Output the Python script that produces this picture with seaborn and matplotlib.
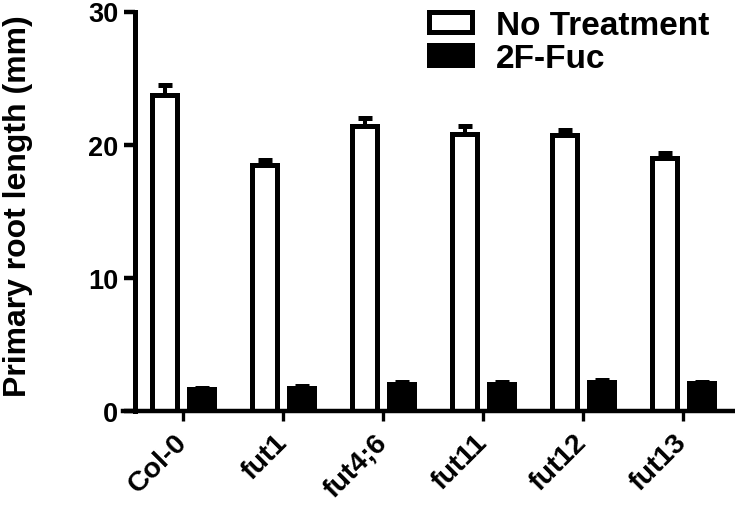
import numpy as np
import pandas as pd
import matplotlib
matplotlib.use("Agg")
import matplotlib.pyplot as plt
import seaborn as sns

# values
genotypes = ["Col-0", "fut1", "fut4;6", "fut11", "fut12", "fut13"]
treatments = ["No Treatment", "2F-Fuc"]
no_treatment = [23.73, 18.47, 21.43, 20.77, 20.73, 19.02]
no_treatment_err = [0.76, 0.35, 0.54, 0.63, 0.37, 0.38]
fuc = [1.64, 1.74, 2.02, 2.04, 2.19, 2.06]
fuc_err = [0.1, 0.1, 0.1, 0.1, 0.1, 0.1]
yticks = [0, 10, 20, 30]

df = pd.DataFrame({
    "genotype": genotypes * 2,
    "treatment": [treatments[0]] * 6 + [treatments[1]] * 6,
    "length": no_treatment + fuc,
})

sns.set_style("ticks")
plt.rcParams["font.family"] = ["Liberation Sans", "DejaVu Sans"]
plt.rcParams["font.weight"] = "bold"
for key in ["text.color", "axes.labelcolor", "xtick.color", "ytick.color", "axes.edgecolor"]:
    plt.rcParams[key] = "black"

fig = plt.figure(figsize=(7.35, 5.1), dpi=100)
ax = fig.add_axes([123 / 735, 98.3 / 510, 612 / 735, 399.2 / 510])

sns.barplot(data=df, x="genotype", y="length", hue="treatment",
            hue_order=treatments, palette=["white", "black"],
            edgecolor="black", linewidth=3.6, width=0.74, gap=0.324,
            errorbar=None, ax=ax)

# upper-only error bars, GraphPad style
for cont, err in zip(ax.containers, [no_treatment_err, fuc_err]):
    xs = [p.get_x() + p.get_width() / 2 for p in cont.patches]
    hs = [p.get_height() for p in cont.patches]
    ax.errorbar(xs, hs, yerr=[np.zeros(len(err)), err], fmt="none",
                ecolor="black", elinewidth=2.9, capsize=5, capthick=3.6,
                zorder=1)

ax.set_xlim(-0.6, 5.52)
ax.set_ylim(0, 30)
ax.set_yticks(yticks)
sns.despine(ax=ax)
ax.spines["left"].set_position(("data", -0.485))
ax.spines["left"].set_linewidth(3.6)
ax.spines["bottom"].set_linewidth(3.2)
ax.spines["bottom"].set_zorder(5)

ax.tick_params(axis="y", length=8, width=3.2, pad=3.6, labelsize=19.5)
ax.tick_params(axis="x", length=7.5, width=2.4, pad=12, labelsize=20.5)
for lab in ax.get_xticklabels():
    lab.set_rotation(45)
    lab.set_ha("right")
    lab.set_va("center")
    lab.set_rotation_mode("anchor")
    lab.set_fontweight("bold")
for lab in ax.get_yticklabels():
    lab.set_fontweight("bold")

ax.set_xlabel("")
ax.set_ylabel("Primary root length (mm)", fontsize=23, fontweight="bold")
ax.yaxis.set_label_coords(-0.147, 0.514)

ax.legend(loc="upper left", bbox_to_anchor=(429 / 735, 1 - 11 / 510),
          bbox_transform=fig.transFigure, frameon=False, fontsize=24,
          borderpad=0, borderaxespad=0, handlelength=1.3, handleheight=0.55,
          handletextpad=0.7, labelspacing=0.05)

fig.savefig("out.png", dpi=100)
